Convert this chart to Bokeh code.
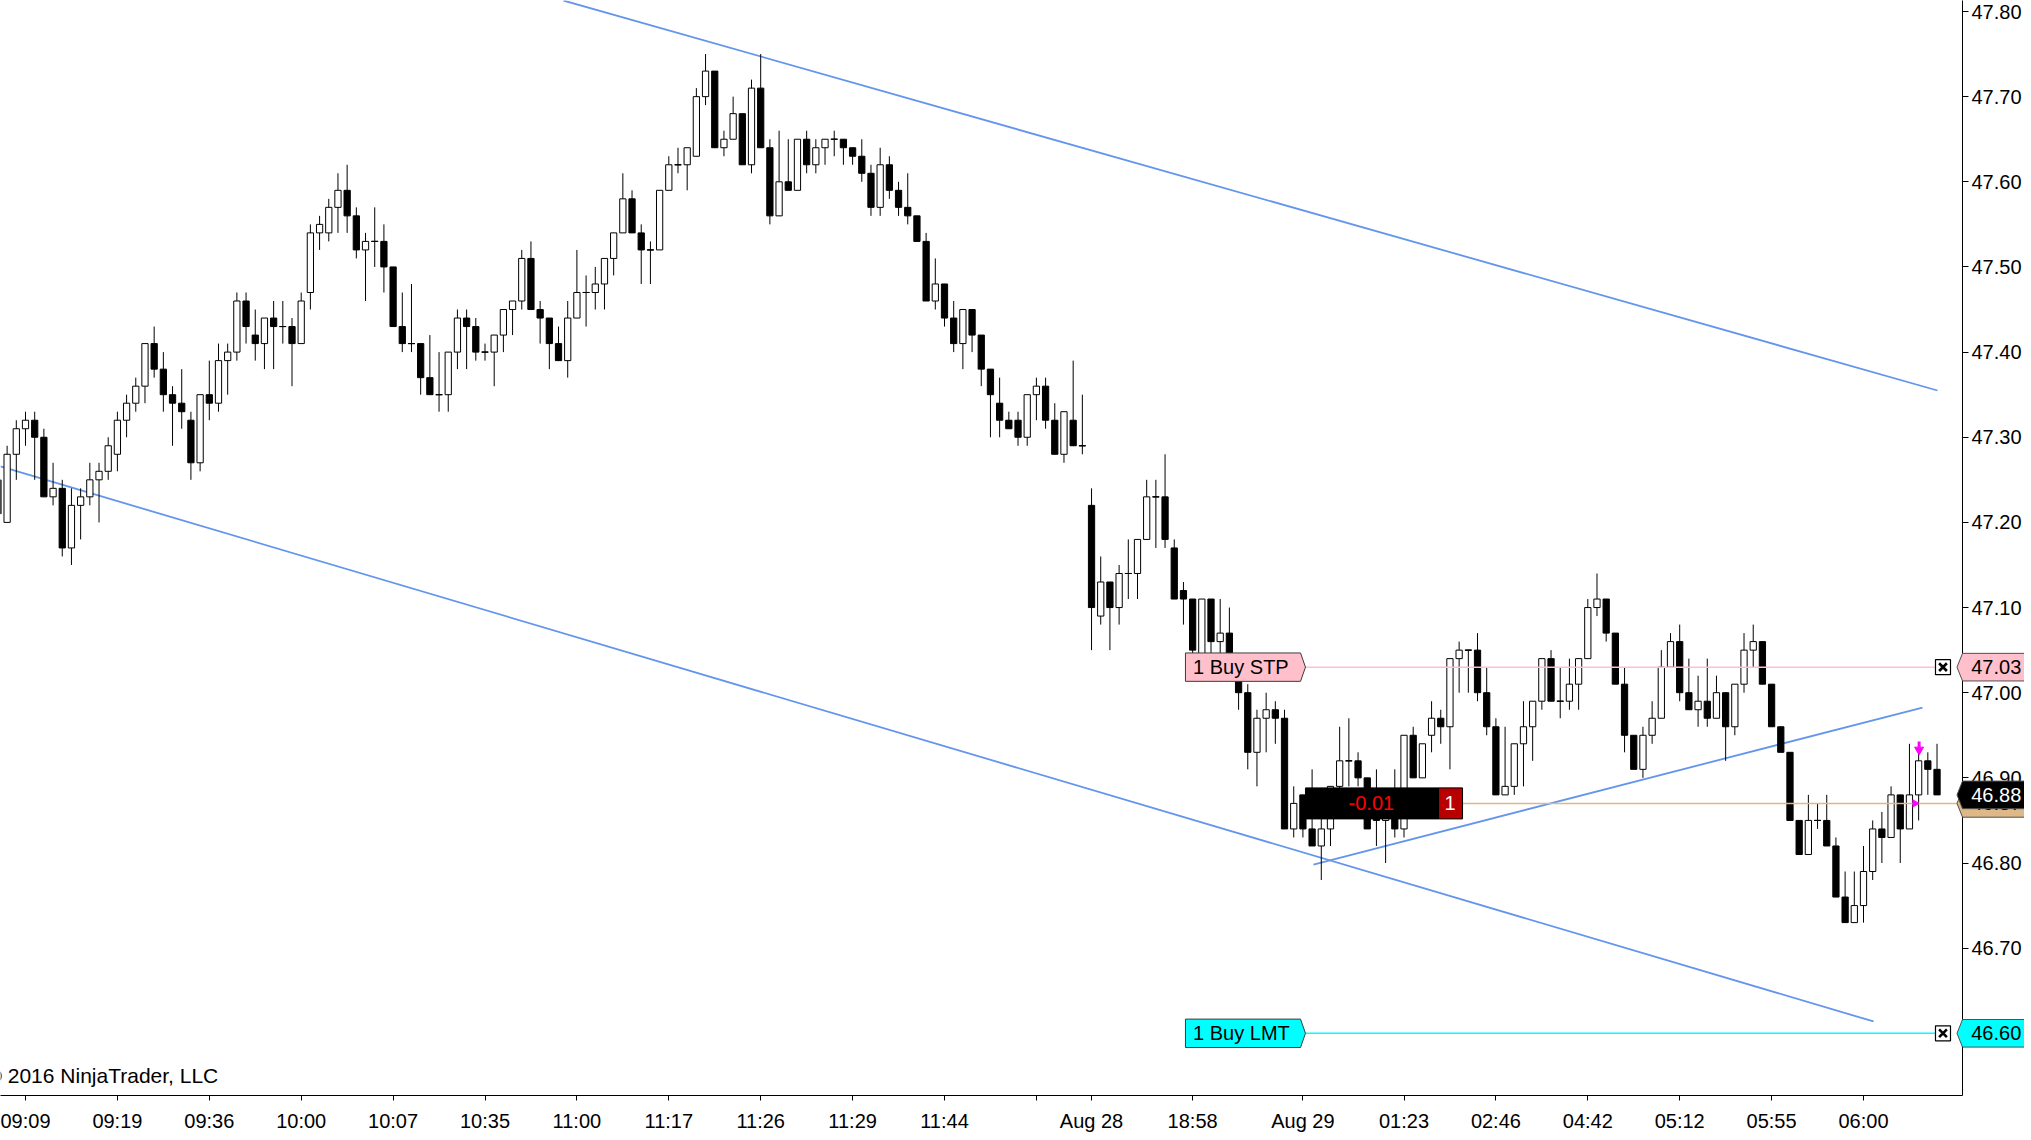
import numpy as np
from bokeh.plotting import figure
from bokeh.models import FixedTicker, Range1d, PrintfTickFormatter, Label
from bokeh.core.properties import value
from bokeh.embed import file_html
from bokeh.resources import INLINE

# ---------------- data ----------------
first_bar = -3
opens = [
    47.25,
    47.20,47.28,47.31,47.32,47.30,47.23,47.24,47.17,47.22,47.23,
    47.25,47.26,47.28,47.32,47.34,47.36,47.41,47.38,47.35,47.34,
    47.32,47.27,47.35,47.34,47.39,47.40,47.46,47.42,47.41,47.44,
    47.43,47.43,47.41,47.47,47.54,47.54,47.57,47.59,47.56,47.52,
    47.53,47.53,47.50,47.43,47.41,47.41,47.37,47.35,47.35,47.40,
    47.44,47.43,47.40,47.40,47.42,47.45,47.46,47.51,47.45,47.44,
    47.41,47.39,47.44,47.47,47.47,47.48,47.51,47.54,47.58,47.54,
    47.52,47.52,47.59,47.62,47.62,47.63,47.70,47.73,47.64,47.65,
    47.68,47.62,47.71,47.64,47.56,47.60,47.59,47.65,47.62,47.64,
    47.65,47.65,47.64,47.63,47.61,47.57,47.62,47.59,47.57,47.56,
    47.53,47.46,47.48,47.44,47.41,47.45,47.42,47.38,47.34,47.32,
    47.32,47.30,47.35,47.36,47.32,47.28,47.32,47.29,47.22,47.09,
    47.13,47.10,47.14,47.14,47.18,47.23,47.23,47.17,47.12,47.11,
    47.04,47.11,47.06,47.07,47.02,47.00,46.93,46.97,46.98,46.97,
    46.84,46.88,46.84,46.82,46.84,46.89,46.92,46.92,46.90,46.87,
    46.85,46.88,46.84,46.95,46.90,46.95,46.97,46.96,47.04,47.05,
    47.05,47.00,46.96,46.88,46.89,46.94,46.96,46.99,47.04,46.99,
    46.99,47.01,47.04,47.10,47.11,47.07,47.01,46.95,46.91,46.95,
    46.97,47.03,47.06,47.00,46.98,46.99,46.97,47.00,46.96,47.01,
    47.05,47.06,47.01,46.96,46.93,46.85,46.81,46.85,46.85,46.82,
    46.76,46.73,46.75,46.79,46.84,46.83,46.88,46.84,46.88,46.92,46.91,
]
highs = [
    47.27,
    47.29,47.32,47.33,47.33,47.31,47.27,47.25,47.24,47.24,47.27,
    47.27,47.30,47.33,47.35,47.37,47.41,47.43,47.40,47.36,47.38,
    47.33,47.35,47.39,47.41,47.41,47.47,47.47,47.45,47.44,47.46,
    47.46,47.44,47.47,47.55,47.56,47.58,47.61,47.62,47.57,47.54,
    47.57,47.55,47.50,47.47,47.48,47.41,47.42,47.40,47.40,47.45,
    47.45,47.44,47.41,47.42,47.45,47.46,47.52,47.53,47.46,47.44,
    47.43,47.46,47.52,47.49,47.50,47.51,47.54,47.61,47.59,47.55,
    47.53,47.59,47.63,47.64,47.64,47.71,47.75,47.73,47.66,47.70,
    47.68,47.72,47.75,47.65,47.66,47.65,47.65,47.66,47.65,47.65,
    47.66,47.65,47.64,47.65,47.62,47.64,47.63,47.60,47.61,47.56,
    47.54,47.51,47.48,47.46,47.45,47.45,47.42,47.38,47.37,47.33,
    47.33,47.35,47.37,47.37,47.34,47.33,47.39,47.35,47.24,47.16,
    47.13,47.15,47.18,47.18,47.25,47.25,47.28,47.18,47.13,47.11,
    47.11,47.11,47.11,47.10,47.04,47.01,46.98,47.00,46.99,46.98,
    46.89,46.88,46.91,46.86,46.89,46.96,46.97,46.93,46.90,46.91,
    46.88,46.91,46.95,46.96,46.94,46.99,46.98,47.04,47.06,47.05,
    47.07,47.03,46.97,46.96,46.94,46.99,46.99,47.04,47.05,47.03,
    47.04,47.04,47.11,47.14,47.11,47.07,47.03,46.95,46.96,46.99,
    47.05,47.07,47.08,47.04,47.02,47.04,47.02,47.00,47.01,47.07,
    47.08,47.06,47.01,46.96,46.93,46.85,46.88,46.87,46.88,46.83,
    46.79,46.79,46.82,46.85,46.86,46.89,46.88,46.94,46.93,46.93,46.94,
]
lows = [
    47.20,
    47.20,47.25,47.29,47.25,47.23,47.22,47.16,47.15,47.18,47.22,
    47.20,47.25,47.26,47.30,47.33,47.34,47.37,47.33,47.29,47.31,
    47.25,47.26,47.32,47.33,47.35,47.39,47.41,47.39,47.38,47.38,
    47.41,47.36,47.41,47.45,47.52,47.53,47.54,47.54,47.51,47.46,
    47.50,47.47,47.43,47.40,47.40,47.35,47.35,47.33,47.33,47.38,
    47.38,47.39,47.39,47.36,47.40,47.42,47.45,47.45,47.41,47.38,
    47.39,47.37,47.44,47.43,47.45,47.45,47.49,47.54,47.54,47.48,
    47.48,47.52,47.59,47.61,47.59,47.63,47.69,47.64,47.63,47.65,
    47.62,47.61,47.64,47.55,47.56,47.59,47.59,47.61,47.61,47.62,
    47.63,47.62,47.62,47.60,47.56,47.56,47.58,47.56,47.55,47.53,
    47.46,47.45,47.43,47.40,47.38,47.40,47.36,47.30,47.30,47.31,
    47.29,47.29,47.32,47.31,47.28,47.27,47.29,47.28,47.05,47.08,
    47.05,47.08,47.11,47.11,47.18,47.17,47.17,47.11,47.08,47.04,
    47.03,47.04,47.04,47.02,46.98,46.91,46.89,46.93,46.94,46.84,
    46.83,46.83,46.82,46.78,46.82,46.88,46.89,46.89,46.84,46.82,
    46.80,46.83,46.83,46.90,46.90,46.93,46.94,46.91,47.00,47.00,
    46.99,46.95,46.88,46.88,46.88,46.89,46.92,46.98,46.99,46.97,
    46.98,46.98,47.04,47.09,47.06,47.01,46.93,46.91,46.90,46.94,
    46.97,47.03,46.99,46.98,46.96,46.96,46.97,46.92,46.95,47.00,
    47.03,47.01,46.96,46.93,46.85,46.81,46.81,46.84,46.82,46.76,
    46.73,46.73,46.73,46.78,46.80,46.83,46.80,46.84,46.85,46.88,46.88,
]
closes = [
    47.21,
    47.28,47.31,47.32,47.30,47.23,47.24,47.17,47.22,47.23,47.25,
    47.26,47.29,47.32,47.34,47.36,47.41,47.38,47.35,47.34,47.33,
    47.27,47.35,47.34,47.39,47.40,47.46,47.43,47.41,47.44,47.43,
    47.43,47.41,47.46,47.54,47.55,47.57,47.59,47.56,47.52,47.53,
    47.53,47.50,47.43,47.41,47.41,47.37,47.35,47.35,47.40,47.44,
    47.43,47.40,47.40,47.42,47.45,47.46,47.51,47.45,47.44,47.41,
    47.39,47.44,47.47,47.47,47.48,47.51,47.54,47.58,47.54,47.52,
    47.52,47.59,47.62,47.62,47.64,47.70,47.73,47.64,47.65,47.68,
    47.62,47.71,47.64,47.56,47.60,47.59,47.65,47.62,47.64,47.65,
    47.65,47.64,47.63,47.61,47.57,47.62,47.59,47.57,47.56,47.53,
    47.46,47.48,47.44,47.41,47.45,47.42,47.38,47.35,47.32,47.31,
    47.30,47.35,47.36,47.32,47.28,47.33,47.29,47.29,47.10,47.13,
    47.10,47.14,47.14,47.18,47.23,47.23,47.18,47.11,47.11,47.05,
    47.11,47.06,47.07,47.03,47.00,46.93,46.97,46.98,46.97,46.84,
    46.87,46.84,46.82,46.84,46.89,46.92,46.92,46.90,46.84,46.85,
    46.86,46.84,46.95,46.90,46.94,46.97,46.96,47.04,47.05,47.05,
    47.00,46.96,46.88,46.89,46.94,46.96,46.99,47.04,46.99,46.99,
    47.01,47.04,47.10,47.11,47.07,47.01,46.95,46.91,46.95,46.97,
    47.03,47.06,47.00,46.98,46.99,46.97,47.00,46.96,47.01,47.05,
    47.06,47.01,46.96,46.93,46.85,46.81,46.85,46.85,46.82,46.76,
    46.73,46.75,46.79,46.84,46.83,46.88,46.84,46.88,46.92,46.91,46.88,
]

time_tick_bars = [0, 10, 20, 30, 40, 50, 60, 70, 80, 90, 100, 110,
                  116, 127, 139, 150, 160, 170, 180, 190, 200]
time_tick_labels = ["09:09", "09:19", "09:36", "10:00", "10:07", "10:35", "11:00",
                    "11:17", "11:26", "11:29", "11:44", "", "Aug 28", "18:58",
                    "Aug 29", "01:23", "02:46", "04:42", "05:12", "05:55", "06:00"]
price_ticks = [46.60, 46.70, 46.80, 46.90, 47.00, 47.10, 47.20,
               47.30, 47.40, 47.50, 47.60, 47.70, 47.80]

# drawing objects (bar index, price)
upper_channel_x = [58.54, 208.05]
upper_channel_y = [47.8129, 47.3549]
lower_channel_x = [-2.72, 201.09]
lower_channel_y = [47.2657, 46.6139]
rising_line_x = [140.15, 206.42]
rising_line_y = [46.7982, 46.9826]

buy_stop_price = 47.03
buy_limit_price = 46.60
avg_entry_price = 46.87
last_price = 46.88
unrealized_pnl = "-0.01"
position_qty = "1"

n = len(opens)
assert n == len(highs) == len(lows) == len(closes)
bars = list(range(first_bar, first_bar + n))

# ---------------- figure ----------------
BAR_PX = 9.19
PRICE_PX = 851.5
FONT = "Liberation Sans"
FRAME_W = 1962
FRAME_H = 1095
X_START = -25 / BAR_PX
X_END = X_START + FRAME_W / BAR_PX
Y_TOP = 47.80 + 11 / PRICE_PX
Y_BOT = Y_TOP - FRAME_H / PRICE_PX

p = figure(frame_width=FRAME_W, frame_height=FRAME_H,
           x_range=Range1d(X_START, X_END), y_range=Range1d(Y_BOT, Y_TOP),
           output_backend="svg", toolbar_location=None,
           y_axis_location="right",
           min_border_left=0, min_border_top=0, min_border_right=0, min_border_bottom=0,
           background_fill_color="white", border_fill_color="white",
           outline_line_color=None)
p.xgrid.visible = False
p.ygrid.visible = False

p.xaxis.ticker = FixedTicker(ticks=time_tick_bars)
p.xaxis.major_label_overrides = {t: lab for t, lab in zip(time_tick_bars, time_tick_labels)}
p.yaxis.ticker = FixedTicker(ticks=price_ticks)
p.yaxis.formatter = PrintfTickFormatter(format="%.2f")
for ax in (p.xaxis, p.yaxis):
    ax.axis_line_color = "black"
    ax.axis_line_width = 1
    ax.major_tick_line_color = "black"
    ax.major_tick_out = 6
    ax.major_tick_in = 0
    ax.minor_tick_line_color = None
    ax.axis_label_standoff = 0
    ax.major_label_text_font = FONT
    ax.major_label_text_font_size = "20px"
    ax.major_label_text_color = "black"
p.xaxis.major_tick_out = 5
p.xaxis.major_label_standoff = 9
p.yaxis.major_label_standoff = 3

# channel lines
blue = "#6495ED"
p.line(upper_channel_x, upper_channel_y, line_color=blue, line_width=1.8)
p.line(lower_channel_x, lower_channel_y, line_color=blue, line_width=1.8)
p.line(rising_line_x, rising_line_y, line_color=blue, line_width=1.8)

# candles
o = np.array(opens); c = np.array(closes)
body_top = np.maximum(o, c)
body_bot = np.minimum(o, c)
fills = ["white" if cc >= oo else "black" for oo, cc in zip(opens, closes)]
p.segment(x0=bars, y0=lows, x1=bars, y1=highs, line_color="black", line_width=1)
p.vbar(x=bars, top=body_top, bottom=body_bot, width=0.68,
       fill_color=fills, line_color="black", line_width=1)
doji_x = [b for b, oo, cc in zip(bars, opens, closes) if oo == cc]
doji_y = [cc for oo, cc in zip(opens, closes) if oo == cc]
p.segment(x0=[x - 0.38 for x in doji_x], y0=doji_y, x1=[x + 0.38 for x in doji_x], y1=doji_y,
          line_color="black", line_width=1)

# order lines
x_box = 208.65
p.segment(x0=[139.28, 139.28], y0=[buy_stop_price, buy_limit_price],
          x1=[207.8, 207.8], y1=[buy_stop_price, buy_limit_price],
          line_color=["#FFC0CB", "#00FFFF"], line_width=1.5)
p.segment(x0=[156.37], y0=[avg_entry_price], x1=[X_END], y1=[avg_entry_price],
          line_color="#DEB887", line_width=1.5)

# order labels (left)
hh = 14.2 / PRICE_PX
lab_left, lab_right, lab_tip = 126.22, 138.74, 139.28
for price, fill, txt in [(buy_stop_price, "#FFC0CB", "1 Buy STP"),
                         (buy_limit_price, "#00FFFF", "1 Buy LMT")]:
    p.patch([lab_left, lab_right, lab_tip, lab_right, lab_left],
            [price + hh, price + hh, price, price - hh, price - hh],
            fill_color=fill, line_color="#3C3C3C", line_width=1)
    p.text(x=[127.05], y=[price], text=[txt], text_font=value(FONT),
           text_font_size="20px", text_baseline="middle", text_align="left",
           text_color="black")

# X boxes at right end of order lines
p.rect(x=[x_box, x_box], y=[buy_stop_price, buy_limit_price], width=15, height=15,
       width_units="screen", height_units="screen", fill_color="white",
       line_color="black", line_width=1.2)
p.scatter(x=[x_box, x_box], y=[buy_stop_price, buy_limit_price], marker="x", size=11,
          line_color="black", line_width=2.6)

# position / PnL box
ph = 15.5 / PRICE_PX
p.quad(left=[139.28], right=[153.76], top=[avg_entry_price + ph], bottom=[avg_entry_price - ph],
       fill_color="black", line_color="black")
p.quad(left=[153.76], right=[156.37], top=[avg_entry_price + ph], bottom=[avg_entry_price - ph],
       fill_color="#B80000", line_color="black")
p.text(x=[146.45], y=[avg_entry_price], text=[unrealized_pnl], text_font=value(FONT),
       text_font_size="20px", text_baseline="middle", text_align="center", text_color="#FF0000")
p.text(x=[155.0], y=[avg_entry_price], text=[position_qty], text_font=value(FONT),
       text_font_size="20px", text_baseline="middle", text_align="center", text_color="white")

# execution markers (magenta)
p.segment(x0=[206.05], y0=[46.9427], x1=[206.05], y1=[46.9355], line_color="#FF00FF", line_width=3)
p.scatter(x=[206.05], y=[46.933], marker="inverted_triangle", size=9,
          fill_color="#FF00FF", line_color="#FF00FF")
p.scatter(x=[205.6], y=[avg_entry_price], marker="triangle", angle=-np.pi / 2, size=7,
          fill_color="#FF00FF", line_color="#FF00FF")

# price markers on the right axis
mh = 13.8 / PRICE_PX
m_tip, m_left, m_right = X_END - 0.6, X_END, X_END + 9.0
markers = [(avg_entry_price, "#DEB887", "black"),
           (buy_limit_price, "#00FFFF", "black"),
           (buy_stop_price, "#FFC0CB", "black"),
           (last_price, "black", "white")]
for price, fill, tcol in markers:
    p.patch([m_tip, m_left, m_right, m_right, m_left],
            [price, price + mh, price + mh, price - mh, price - mh],
            fill_color=fill, line_color="#505050", line_width=1, level="overlay")
    p.text(x=[X_END + 0.95], y=[price], text=["%.2f" % price], text_font=value(FONT),
           text_font_size="20px", text_baseline="middle", text_align="left",
           text_color=tcol, level="overlay")

# copyright
p.add_layout(Label(x=-4.25, y=46.5501, text="\u00a9 2016 NinjaTrader, LLC",
                   text_font=FONT, text_font_size="21px", text_baseline="alphabetic",
                   text_color="black"))

open("out.html", "w").write(file_html(p, INLINE))
